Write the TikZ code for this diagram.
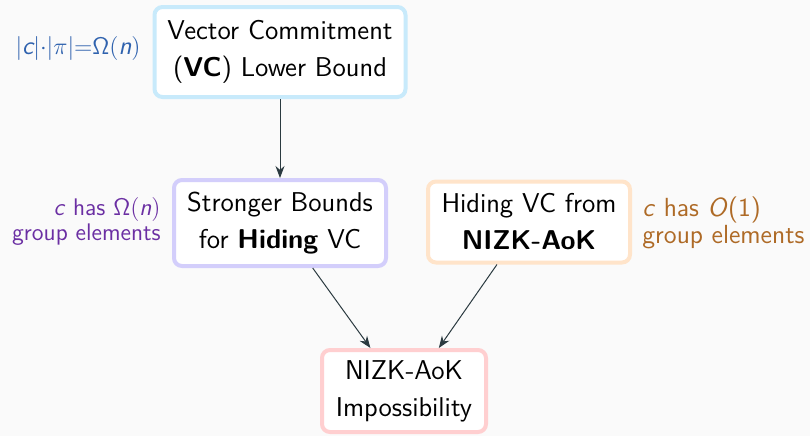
\documentclass[tikz,border=0pt]{standalone}
\renewcommand{\familydefault}{\sfdefault}
\usetikzlibrary{arrows.meta}
\definecolor{bgpaper}{HTML}{FAFAFA}
\definecolor{edgeblue}{HTML}{C8EAFB}
\definecolor{edgelav}{HTML}{D3CEFB}
\definecolor{edgepeach}{HTML}{FFE4CA}
\definecolor{edgepink}{HTML}{FFCFD0}
\definecolor{noteblue}{HTML}{2F62AE}
\definecolor{notepurple}{HTML}{6B2FA3}
\definecolor{notebrown}{HTML}{AE6A26}
\definecolor{arrowink}{HTML}{2B3A40}
\tikzset{
  claim/.style={draw, rounded corners=4pt, line width=2pt, fill=white,
    align=center, inner sep=0pt, text=black,
    font=\fontsize{13.6}{18.5}\selectfont},
  note/.style={inner sep=0pt, font=\fontsize{12}{12.5}\selectfont},
  implies/.style={draw=arrowink, line width=0.5pt,
    -{Stealth[length=6pt,width=4.5pt]}}
}
\begin{document}
\begin{tikzpicture}[x=0.5pt,y=-0.5pt]
\fill[bgpaper] (0,0) rectangle (810,436);
\useasboundingbox (0,0) rectangle (810,436);

% result boxes
\node[claim, draw=edgeblue, minimum width=125.5pt, minimum height=45pt]
  (vc) at (280,52) {Vector Commitment\\(\textbf{VC}) Lower Bound};
\node[claim, draw=edgelav, minimum width=106pt, minimum height=43pt]
  (sb) at (280,223) {Stronger Bounds\\for \textbf{Hiding} VC};
\node[claim, draw=edgepeach, minimum width=101pt, minimum height=40.5pt]
  (hv) at (529,222) {Hiding VC from\\\textbf{NIZK-AoK}};
\node[claim, draw=edgepink, minimum width=82pt, minimum height=41pt]
  (imp) at (404,391) {NIZK-AoK\\Impossibility};

% side notes
\node[note, anchor=east, text=noteblue, font=\fontsize{12.8}{14}\selectfont]
  (vcnote) at (141,48) {$|\textit{c}|{\cdot}|\pi|{=}\mathsf{\Omega}(\textit{n})$};
\node[note, anchor=east, align=right, text=notepurple]
  (sbnote) at (161,221) {\textit{c} has $\mathsf{\Omega}(\textit{n})$\\group elements};
\node[note, anchor=west, align=left, text=notebrown,
  font=\fontsize{13.1}{13.5}\selectfont]
  (hvnote) at (642,223) {\textit{c} has \textit{O}(1)\\group elements};

% implications
\draw[implies] (vc) -- (sb);
\draw[implies] (sb.-54) -- (imp.128);
\draw[implies] (hv.233) -- (imp.51);
\end{tikzpicture}
\end{document}
